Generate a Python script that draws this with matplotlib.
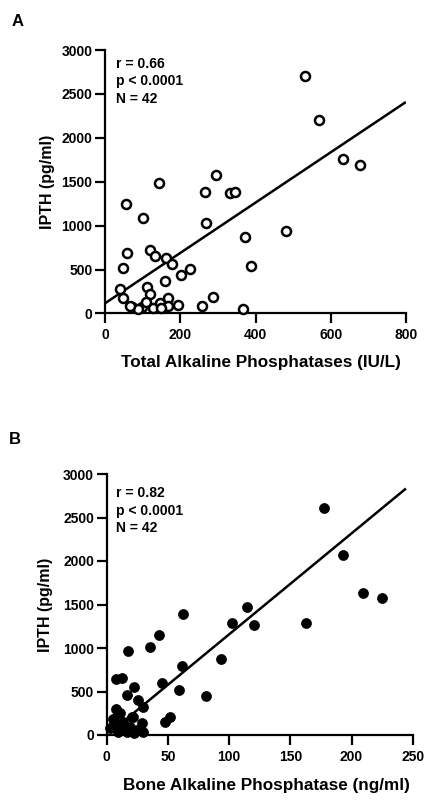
import matplotlib
matplotlib.use("Agg")
import matplotlib.pyplot as plt
import numpy as np

plt.rcParams['font.family'] = ['Liberation Sans', 'DejaVu Sans']
plt.rcParams['font.weight'] = 'bold'

# Panel A: Total alkaline phosphatases (IU/L) vs IPTH (pg/ml)
tap_x = [144, 295, 266, 332, 345, 56, 102, 268, 372, 59, 120, 133, 162, 177, 47,
         226, 201, 387, 40, 112, 159, 49, 120, 71, 98, 128, 146, 168, 195, 257,
         288, 366, 532, 569, 633, 678, 480, 89, 168, 66, 150, 110]
tap_y = [1489, 1577, 1387, 1370, 1380, 1247, 1084, 1034, 874, 692, 723, 655, 628, 564, 521,
         503, 438, 544, 276, 305, 373, 173, 222, 77, 77, 59, 116, 173, 97, 85,
         191, 48, 2704, 2203, 1759, 1691, 939, 48, 85, 85, 60, 130]
fit_a_x = [0, 797]
fit_a_y = [116, 2400]

# Panel B: Bone alkaline phosphatase (ng/ml) vs IPTH (pg/ml)
bap_x = [62.6, 114.4, 102.6, 120.6, 43, 35.4, 17.2, 61.3, 93.4, 7.6, 12.3, 44.9, 22.5, 16.3,
         59.1, 81.1, 25.8, 29.9, 9.5, 20.4, 51.7, 47.6, 177.5, 192.8, 209.6, 224.7, 162.8,
         10.9, 6.9, 13.6, 19, 2.7, 28.6, 29.9, 21.7, 9.5, 16.3, 14, 25, 5, 22, 8]
bap_y = [1391, 1468, 1291, 1264, 1149, 1008, 969, 797, 870, 640, 659, 594, 555, 460,
         517, 448, 402, 318, 249, 210, 210, 153, 2606, 2069, 1629, 1571, 1284,
         249, 134, 153, 95, 77, 134, 38, 210, 38, 38, 90, 60, 180, 20, 300]
fit_b_x = [15, 243.7]
fit_b_y = [171, 2824]

xticks_a = [0, 200, 400, 600, 800]
xticks_b = [0, 50, 100, 150, 200, 250]
yticks = [0, 500, 1000, 1500, 2000, 2500, 3000]

stats_a = "r = 0.66\np < 0.0001\nN = 42"
stats_b = "r = 0.82\np < 0.0001\nN = 42"

W, H = 425, 801
fig = plt.figure(figsize=(W / 100, H / 100), dpi=100)

def px_axes(left, top, right, bottom):
    return fig.add_axes([left / W, 1 - bottom / H, (right - left) / W, (bottom - top) / H])

axA = px_axes(105, 50, 406, 313.5)
axB = px_axes(106.7, 474, 412.7, 735)

def style(ax, xticks, xlabel, xlab_pos, ylab_pos):
    ax.set_ylim(0, 3000)
    ax.set_xlim(xticks[0], xticks[-1])
    ax.set_xticks(xticks)
    ax.set_yticks(yticks)
    for s in ['top', 'right']:
        ax.spines[s].set_visible(False)
    for s in ['left', 'bottom']:
        ax.spines[s].set_linewidth(1.6)
    ax.tick_params(direction='out', length=7.5, width=1.6, labelsize=10)
    ax.tick_params(axis='y', pad=1.5)
    ax.tick_params(axis='x', pad=3)
    for lab in ax.get_xticklabels() + ax.get_yticklabels():
        lab.set_fontweight('bold')
    ax.set_xlabel(xlabel, fontsize=12.3, fontweight='bold', va='center')
    ax.set_ylabel("IPTH (pg/ml)", fontsize=11.5, fontweight='bold', va='center')
    ax.xaxis.set_label_coords(*xlab_pos)
    ax.yaxis.set_label_coords(*ylab_pos)

axA.plot(tap_x, tap_y, linestyle='none', marker='o', ms=6.5, mfc='white',
         mec='black', mew=1.8, clip_on=False, zorder=3)
axA.plot(fit_a_x, fit_a_y, color='black', lw=1.8, zorder=2)
style(axA, xticks_a, "Total Alkaline Phosphatases (IU/L)", (0.517, -0.185), (-0.19, 0.5))
axA.text(0.037, 0.975, stats_a, transform=axA.transAxes, va='top', ha='left',
         fontsize=10, fontweight='bold', linespacing=1.35)

axB.plot(bap_x, bap_y, linestyle='none', marker='o', ms=7.2, mfc='black',
         mec='black', mew=0.5, clip_on=False, zorder=3)
axB.plot(fit_b_x, fit_b_y, color='black', lw=1.8, zorder=2)
style(axB, xticks_b, "Bone Alkaline Phosphatase (ng/ml)", (0.523, -0.195), (-0.2, 0.5))
axB.text(0.03, 0.955, stats_b, transform=axB.transAxes, va='top', ha='left',
         fontsize=10, fontweight='bold', linespacing=1.35)

fig.text(18 / W, 1 - 21 / H, "A", fontsize=12, fontweight='bold', ha='center', va='center')
fig.text(15 / W, 1 - 440 / H, "B", fontsize=12, fontweight='bold', ha='center', va='center')

fig.savefig("out.png", dpi=100)
